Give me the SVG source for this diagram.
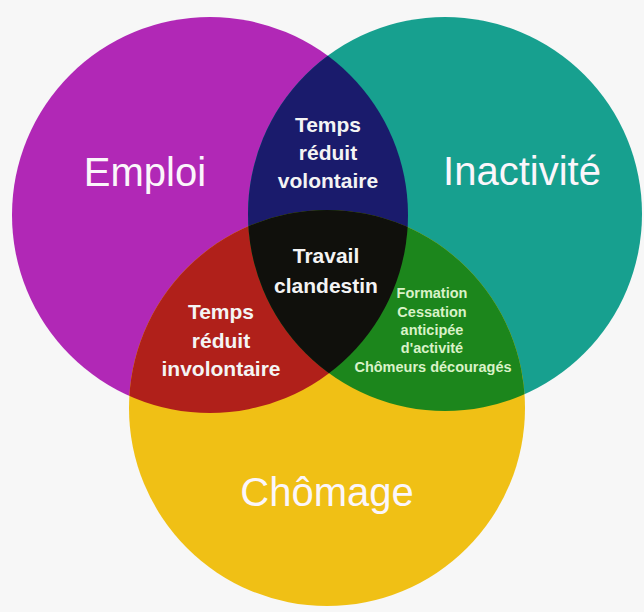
<svg xmlns="http://www.w3.org/2000/svg" width="644" height="612" viewBox="0 0 644 612">
  <defs>
    <clipPath id="cpE"><circle cx="210" cy="215" r="198"/></clipPath>
    <clipPath id="cpI"><circle cx="445" cy="214" r="197"/></clipPath>
    <clipPath id="cpC"><circle cx="327" cy="408" r="198"/></clipPath>
    <style>
      .big { font-family: "Liberation Sans", Arial, sans-serif; font-size: 40px; fill: #fbf6fb; text-anchor: middle; }
      .mid { font-family: "Liberation Sans", Arial, sans-serif; font-size: 21px; font-weight: bold; fill: #f4f4f4; text-anchor: middle; }
      .small { font-family: "Liberation Sans", Arial, sans-serif; font-size: 14.5px; font-weight: bold; fill: #d9f2c8; text-anchor: middle; }
    </style>
  </defs>
  <rect width="644" height="612" fill="#f7f7f7"/>

  <g id="emploi">
    <circle cx="210" cy="215" r="198" fill="#b128b6"/>
  </g>
  <g id="inactivite">
    <circle cx="445" cy="214" r="197" fill="#17a08f"/>
  </g>
  <g id="chomage">
    <circle cx="327" cy="408" r="198" fill="#f0c015"/>
  </g>
  <g id="temps-reduit-volontaire">
    <g clip-path="url(#cpE)"><circle cx="445" cy="214" r="197" fill="#1a1b6c"/></g>
  </g>
  <g id="temps-reduit-involontaire">
    <g clip-path="url(#cpE)"><circle cx="327" cy="408" r="198" fill="#b0201a"/></g>
  </g>
  <g id="formation">
    <g clip-path="url(#cpI)"><circle cx="327" cy="408" r="198" fill="#1c861c"/></g>
  </g>
  <g id="travail-clandestin">
    <g clip-path="url(#cpE)"><g clip-path="url(#cpI)"><circle cx="327" cy="408" r="198" fill="#10100c"/></g></g>
  </g>

  <g id="labels">
    <text class="big" x="145" y="186">Emploi</text>
    <text class="big" x="522" y="185">Inactivité</text>
    <text class="big" x="327" y="506">Chômage</text>

    <text class="mid" x="328" y="132">Temps</text>
    <text class="mid" x="328" y="160">réduit</text>
    <text class="mid" x="328" y="188">volontaire</text>

    <text class="mid" x="326" y="263">Travail</text>
    <text class="mid" x="326" y="293">clandestin</text>

    <text class="mid" x="221" y="319">Temps</text>
    <text class="mid" x="221" y="348">réduit</text>
    <text class="mid" x="221" y="376">involontaire</text>

    <text class="small" x="432" y="298">Formation</text>
    <text class="small" x="432" y="317">Cessation</text>
    <text class="small" x="432" y="335">anticipée</text>
    <text class="small" x="432" y="353">d'activité</text>
    <text class="small" x="433" y="372">Chômeurs découragés</text>
  </g>
</svg>
